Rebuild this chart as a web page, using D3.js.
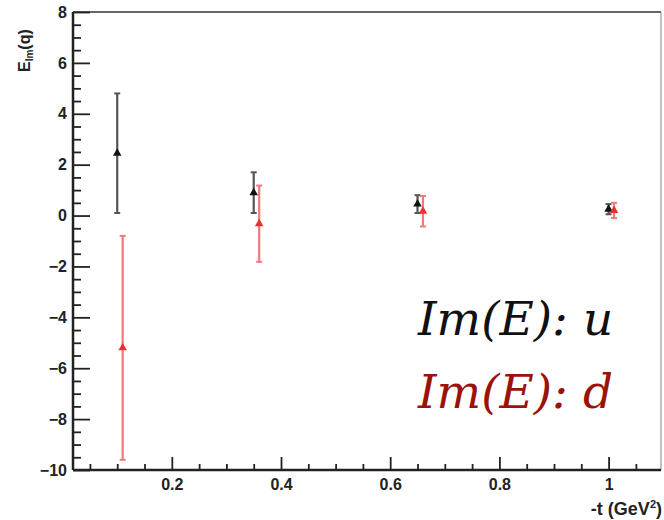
<!DOCTYPE html>
<html><head><meta charset="utf-8">
<script src="https://cdn.jsdelivr.net/npm/d3@7"></script>
<style>body{margin:0;background:#fff}svg{display:block}</style>
</head><body><svg id="c" width="664" height="520"></svg>
<script>
const tU = [0.10, 0.35, 0.65, 1.00];
const imEu = [2.45, 0.9, 0.45, 0.25];
const errU = [2.35, 0.8, 0.35, 0.2];
const tD = [0.11, 0.36, 0.66, 1.01];
const imEd = [-5.2, -0.32, 0.17, 0.2];
const errD = [4.4, 1.5, 0.6, 0.3];
const xMajor = [0.2, 0.4, 0.6, 0.8, 1];
const yMajor = [-10, -8, -6, -4, -2, 0, 2, 4, 6, 8];
const legendLabels = ["Im(E): u", "Im(E): d"];

const svg = d3.select("#c");
const L = 73, R = 661, T = 12, B = 470;
const x = d3.scaleLinear().domain([0.019, 1.096]).range([L, R]);
const y = d3.scaleLinear().domain([-10, 8]).range([B, T]);
const sans = "Liberation Sans, Arial, sans-serif";

// frame
svg.append("line").attr("x1", L).attr("x2", R).attr("y1", T).attr("y2", T).attr("stroke", "#333").attr("stroke-width", 1.5);
svg.append("line").attr("x1", R).attr("x2", R).attr("y1", T).attr("y2", B).attr("stroke", "#999").attr("stroke-width", 1.2);

// y axis
const yAxis = d3.axisLeft(y).tickValues(yMajor).tickSize(-17).tickPadding(6)
  .tickFormat(d => d < 0 ? "\u2212" + Math.abs(d) : d);
const gy = svg.append("g").attr("transform", `translate(${L},0)`).call(yAxis);
const yMinor = d3.range(-10, 8.01, 0.5).filter(v => !yMajor.includes(v));
const gyMinor = svg.append("g").attr("transform", `translate(${L},0)`).call(d3.axisLeft(y).tickValues(yMinor).tickSize(-8).tickFormat(""));
gyMinor.select(".domain").remove();

// x axis
const xAxis = d3.axisBottom(x).tickValues(xMajor).tickSize(-13).tickPadding(9).tickFormat(d3.format("~g"));
const gx = svg.append("g").attr("transform", `translate(0,${B})`).call(xAxis);
const xMinor = d3.range(0.05, 1.0951, 0.05).filter(v => !xMajor.some(m => Math.abs(m - v) < 1e-6));
const gxMinor = svg.append("g").attr("transform", `translate(0,${B})`).call(d3.axisBottom(x).tickValues(xMinor).tickSize(-6).tickFormat(""));
gxMinor.select(".domain").remove();

svg.selectAll(".domain").attr("stroke", "#222").attr("stroke-width", 2.5);
svg.selectAll(".tick line").attr("stroke", "#222").attr("stroke-width", 1.8);
svg.selectAll(".tick text").attr("font-family", sans).attr("font-weight", "bold").attr("font-size", 16).attr("fill", "#222");
gx.select(".domain").attr("d", `M${L},0H${R}`);
gy.select(".domain").attr("d", `M0,${T}V${B}`);

// axis titles
const yt = svg.append("text").attr("transform", "translate(30,72) rotate(-90)")
  .attr("font-family", sans).attr("font-weight", "bold").attr("font-size", 16).attr("fill", "#222");
yt.append("tspan").text("E");
yt.append("tspan").attr("font-size", 10).attr("dy", 3).text("Im");
yt.append("tspan").attr("dy", -3).text("(q)");

const xt = svg.append("text").attr("x", 662).attr("y", 515).attr("text-anchor", "end")
  .attr("font-family", sans).attr("font-weight", "bold").attr("font-size", 18).attr("fill", "#222");
xt.append("tspan").text("-t (GeV");
xt.append("tspan").attr("font-size", 11).attr("dy", -7).text("2");
xt.append("tspan").attr("dy", 7).text(")");

// data series
function drawSeries(ts, vals, errs, barColor, markColor) {
  const g = svg.append("g");
  const data = ts.map((t, i) => ({t, v: vals[i], e: errs[i]}));
  g.selectAll("line.bar").data(data).join("line")
    .attr("x1", d => x(d.t)).attr("x2", d => x(d.t))
    .attr("y1", d => y(d.v + d.e)).attr("y2", d => y(d.v - d.e))
    .attr("stroke", barColor).attr("stroke-width", 2.2);
  [1, -1].forEach(s => {
    g.selectAll(null).data(data).join("line")
      .attr("x1", d => x(d.t) - 3).attr("x2", d => x(d.t) + 3)
      .attr("y1", d => y(d.v + s * d.e)).attr("y2", d => y(d.v + s * d.e))
      .attr("stroke", barColor).attr("stroke-width", 2);
  });
  g.selectAll("path").data(data).join("path")
    .attr("transform", d => `translate(${x(d.t)},${y(d.v)})`)
    .attr("d", d3.symbol(d3.symbolTriangle, 32))
    .attr("fill", markColor);
}
drawSeries(tU, imEu, errU, "#555", "#111");
drawSeries(tD, imEd, errD, "#f07a7a", "#e83030");

// legend
const leg = svg.append("g").attr("font-family", "DejaVu Serif, serif").attr("font-style", "italic").attr("font-size", 47);
leg.append("text").attr("x", 418).attr("y", 335).attr("fill", "#111").text(legendLabels[0]);
leg.append("text").attr("x", 418).attr("y", 408).attr("fill", "#9b1208").text(legendLabels[1]);
</script></body></html>
